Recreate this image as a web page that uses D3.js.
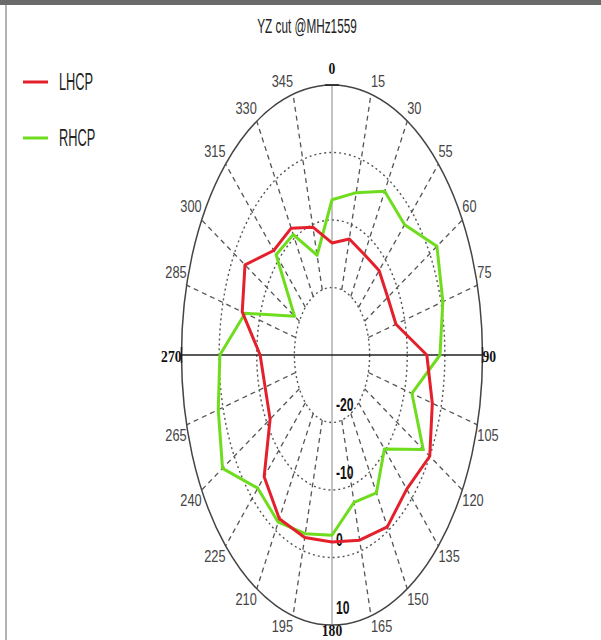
<!DOCTYPE html>
<html>
<head>
<meta charset="utf-8">
<script src="https://cdn.jsdelivr.net/npm/d3@7"></script>
<style>
  body { margin: 0; background: #fff; }
  svg { display: block; }
  text { font-family: "Liberation Sans", Arial, sans-serif; }
  text.serif { font-family: "Liberation Serif", serif; }
</style>
</head>
<body>
<svg id="chart" width="601" height="640"></svg>
<script>
const TITLE = 'YZ cut @MHz1559';
const ANGLES = [0, 15, 30, 45, 60, 75, 90, 105, 120, 135, 150, 165,
  180, 195, 210, 225, 240, 255, 270, 285, 300, 315, 330, 345];
const ANGLE_LABELS = ['0', '15', '30', '55', '60', '75', '90', '105', '120', '135', '150', '165',
  '180', '195', '210', '225', '240', '265', '270', '285', '300', '315', '330', '345'];
const RINGS = [-20, -10, 0, 10];
const LHCP = [-13.4, -12.2, -12.8, -12.3, -12.9, -12.4, -4.8, -2.4, 0, -1.9, -0.6, -1.6,
  -2.3, -2, -2, -4.5, -11, -11.6, -10.9, -5.3, -3.3, -8.1, -8.3, -10.4];
const RHCP = [-7, -5.1, -2, -2.7, 2.2, 0.5, -1.3, -8, -2, -10.3, -6.4, -7.4,
  -3.3, -2.6, -1.4, -2.1, 3.6, 1.3, -0.2, -6.1, -18.5, -9, -9.4, -14.7];
const SERIES = [
  { name: 'LHCP', color: '#e3202b', values: LHCP },
  { name: 'RHCP', color: '#6fdc1e', values: RHCP },
];

const CX = 332;
const CY = 355;
const RX = 150.5;
const RY = 270;

const svg = d3.select('#chart');

// normalised radius: -30 dB at the centre, 10 dB on the rim
const r = d3.scaleLinear().domain([-30, 10]).range([0, 1]);
const rad = (a) => a * Math.PI / 180;
const px = (a, k) => CX + k * RX * Math.sin(rad(a));
const py = (a, k) => CY - k * RY * Math.cos(rad(a));

// the source picture is squeezed sideways, so its text is too
const squeeze = (x, y, sx, sy) => `translate(${x},${y}) scale(${sx},${sy})`;

// frame
svg.append('rect').attr('x', 0).attr('y', 0).attr('width', 601).attr('height', 5).attr('fill', '#6a6a6a');
svg.append('line').attr('x1', 6).attr('y1', 5).attr('x2', 6).attr('y2', 640)
  .attr('stroke', '#9a9a9a').attr('stroke-width', 1.5);

svg.append('text')
  .attr('transform', squeeze(307, 28, 0.84, 1.4))
  .attr('text-anchor', 'middle')
  .attr('dominant-baseline', 'middle')
  .attr('font-size', 14)
  .attr('fill', '#222')
  .text(TITLE);

const grid = svg.append('g').attr('id', 'grid');

// spokes
grid.selectAll('line.spoke')
  .data(ANGLES.filter((a) => a % 90 !== 0))
  .enter()
    .append('line')
    .attr('x1', (a) => px(a, r(-20)))
    .attr('y1', (a) => py(a, r(-20)))
    .attr('x2', (a) => px(a, 1))
    .attr('y2', (a) => py(a, 1))
    .attr('stroke', '#555')
    .attr('stroke-width', 1.3)
    .attr('stroke-dasharray', '5,4');

// inner rings
grid.selectAll('ellipse.ring')
  .data(RINGS.slice(0, 3))
  .enter()
    .append('ellipse')
    .attr('cx', CX)
    .attr('cy', CY)
    .attr('rx', (d) => r(d) * RX)
    .attr('ry', (d) => r(d) * RY)
    .attr('fill', 'none')
    .attr('stroke', '#555')
    .attr('stroke-width', 1.4)
    .attr('stroke-dasharray', '2,3');

grid.append('ellipse')
  .attr('cx', CX).attr('cy', CY)
  .attr('rx', RX).attr('ry', RY)
  .attr('fill', 'none')
  .attr('stroke', '#444')
  .attr('stroke-width', 1.5);

grid.append('line')
  .attr('x1', CX).attr('y1', CY - RY).attr('x2', CX).attr('y2', CY + RY)
  .attr('stroke', '#888').attr('stroke-width', 1);
grid.append('line')
  .attr('x1', CX - RX).attr('y1', CY).attr('x2', CX + RX).attr('y2', CY)
  .attr('stroke', '#222').attr('stroke-width', 1.6);

// small ticks on the rim at the axes
grid.append('line').attr('x1', CX + RX).attr('y1', CY - 8).attr('x2', CX + RX).attr('y2', CY + 8)
  .attr('stroke', '#222').attr('stroke-width', 1.5);
grid.append('line').attr('x1', CX - RX).attr('y1', CY - 8).attr('x2', CX - RX).attr('y2', CY + 8)
  .attr('stroke', '#222').attr('stroke-width', 1.5);
grid.append('line').attr('x1', CX - 7).attr('y1', CY - RY).attr('x2', CX + 7).attr('y2', CY - RY)
  .attr('stroke', '#222').attr('stroke-width', 1.5);

// angle labels
const isAxis = (a) => a % 90 === 0;
svg.append('g')
  .selectAll('text')
  .data(ANGLES.map((a, i) => ({ a, label: ANGLE_LABELS[i] })))
  .enter()
    .append('text')
    .attr('class', (d) => (isAxis(d.a) ? 'serif' : null))
    .attr('transform', (d) => {
      let y = py(d.a, 1) + (Math.cos(rad(d.a)) > 0 ? -12 : 12);
      if (d.a === 90 || d.a === 270) y = py(d.a, 1) + 3;
      if (d.a === 0) y = py(d.a, 1) - 15;
      if (d.a === 180) y = py(d.a, 1) + 7;
      return isAxis(d.a)
        ? squeeze(px(d.a, 1), y, 0.85, 1)
        : squeeze(px(d.a, 1), y, 0.8, 1.05);
    })
    .attr('text-anchor', (d) => {
      if (d.a === 0 || d.a === 180) return 'middle';
      return d.a < 180 ? 'start' : 'end';
    })
    .attr('dominant-baseline', 'middle')
    .attr('font-weight', (d) => (isAxis(d.a) ? 'bold' : 'normal'))
    .attr('font-size', 16)
    .attr('fill', (d) => (isAxis(d.a) ? '#111' : '#444'))
    .text((d) => d.label);

// radial labels
svg.append('g')
  .selectAll('text')
  .data(RINGS)
  .enter()
    .append('text')
    .attr('transform', (d) => squeeze(CX + 4, CY + r(d) * RY - 16, 0.76, 1.12))
    .attr('dominant-baseline', 'middle')
    .attr('font-size', 16)
    .attr('font-weight', 'bold')
    .attr('fill', '#111')
    .text((d) => d);

// traces
const trace = d3.line()
  .x((d) => px(d.a, r(d.v)))
  .y((d) => py(d.a, r(d.v)))
  .curve(d3.curveLinearClosed);

svg.append('g')
  .selectAll('path')
  .data(SERIES.slice().reverse())
  .enter()
    .append('path')
    .attr('d', (s) => trace(ANGLES.map((a, i) => ({ a, v: s.values[i] }))))
    .attr('fill', 'none')
    .attr('stroke', (s) => s.color)
    .attr('stroke-width', 3)
    .attr('stroke-linejoin', 'round');

// legend
const legend = svg.append('g')
  .selectAll('g')
  .data(SERIES)
  .enter()
    .append('g')
    .attr('transform', (s, i) => `translate(23,${82 + i * 56})`);
legend.append('line')
  .attr('x1', 0).attr('x2', 25)
  .attr('stroke', (s) => s.color)
  .attr('stroke-width', 3);
legend.append('text')
  .attr('transform', squeeze(36, 1, 0.8, 1.55))
  .attr('dominant-baseline', 'middle')
  .attr('font-size', 16)
  .attr('fill', '#222')
  .text((s) => s.name);
</script>
</body>
</html>
